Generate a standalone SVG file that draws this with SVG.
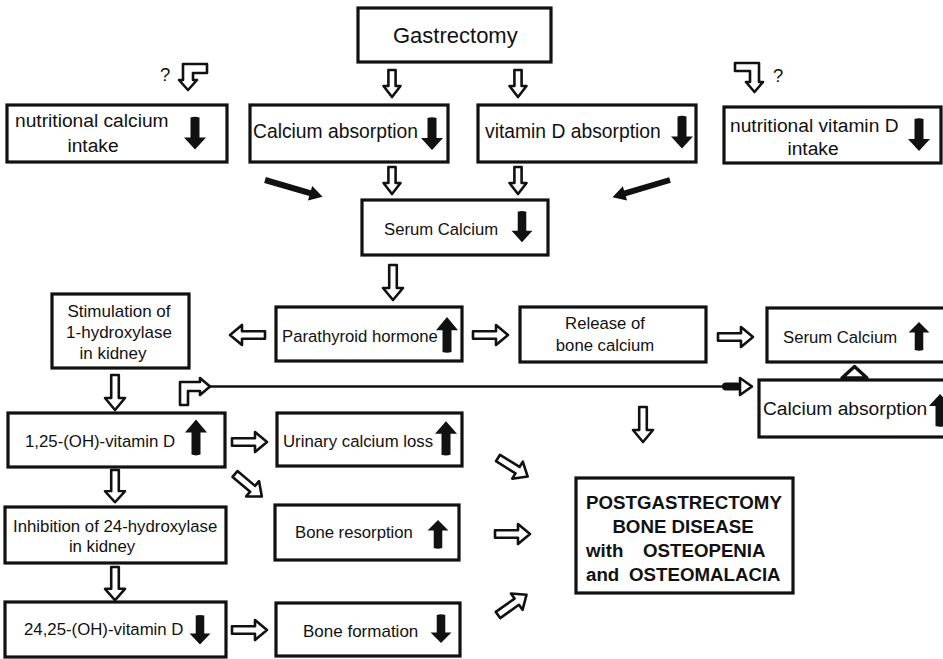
<svg xmlns="http://www.w3.org/2000/svg" xmlns:xlink="http://www.w3.org/1999/xlink" width="943" height="659" viewBox="0 0 943 659">
<style>
.box{fill:#fff;stroke:#111;stroke-width:3.2}
text{font-family:"Liberation Sans",Arial,Helvetica,sans-serif;fill:#111}
.t19{font-size:19.2px}
.t17{font-size:16.8px}
.b{font-size:18.7px;font-weight:bold}
.q{font-size:18.5px}
.ho{fill:#fff;stroke:#111;stroke-width:2.6;stroke-linejoin:round}
.so{fill:#111}
.ln{stroke:#111;stroke-width:2.6;fill:none}
</style>
<defs>
<path id="ha" d="M0,-3.8 H23 V-10 L35,0 L23,10 V3.8 H0 Z"/>
<path id="hs" d="M0,-3.6 H16 V-8.5 L27,0 L16,8.5 V3.6 H0 Z"/>
<path id="sd" d="M-4.5,-16 Q0,-17.5 4.5,-16 V4 H11 L0,16 L-11,4 H-4.5 Z"/>
<path id="sl" d="M0,-3 H47 V-7.5 L60,0 L47,7.5 V3 H0 Z"/>
</defs>

<g id="gastrectomy">
<rect class="box" x="358" y="8" width="193" height="54"/>
<text x="393" y="43" style="font-size:22px">Gastrectomy</text>
</g>

<g id="nutritional-calcium">
<rect class="box" x="7" y="105" width="220" height="57"/>
<text class="t19" x="15" y="127">nutritional calcium</text>
<text class="t19" x="93" y="152" text-anchor="middle">intake</text>
<use href="#sd" class="so" transform="translate(195,133.5)"/>
</g>

<g id="calcium-absorption">
<rect class="box" x="250" y="105" width="198" height="57"/>
<text class="t19" x="253" y="138" style="font-size:19.3px">Calcium absorption</text>
<use href="#sd" class="so" transform="translate(432,134)"/>
</g>

<g id="vitd-absorption">
<rect class="box" x="478" y="105" width="218" height="57"/>
<text class="t19" x="485" y="138" style="font-size:19.3px">vitamin D absorption</text>
<use href="#sd" class="so" transform="translate(682,132.5)"/>
</g>

<g id="nutritional-vitd">
<rect class="box" x="724" y="107" width="217" height="56"/>
<text class="t19" x="730" y="132">nutritional vitamin D</text>
<text class="t19" x="813" y="155" text-anchor="middle">intake</text>
<use href="#sd" class="so" transform="translate(919,135)"/>
</g>

<g id="serum-calcium-low">
<rect class="box" x="362" y="200" width="186" height="55"/>
<text class="t17" x="384" y="235" style="font-size:16.7px">Serum Calcium</text>
<use href="#sd" class="so" transform="translate(522,227) scale(0.95)"/>
</g>

<g id="stimulation">
<rect class="box" x="52" y="294" width="137" height="74"/>
<text class="t17" x="119" y="317" text-anchor="middle" style="font-size:17px">Stimulation of</text>
<text class="t17" x="119" y="338" text-anchor="middle" style="font-size:17px">1-hydroxylase</text>
<text class="t17" x="113" y="359" text-anchor="middle" style="font-size:17px">in kidney</text>
</g>

<g id="pth">
<rect class="box" x="276" y="307" width="186" height="54"/>
<text class="t17" x="282" y="342" style="font-size:16.7px">Parathyroid hormone</text>
<use href="#sd" class="so" transform="translate(447,334.5) rotate(180) scale(1,1.09)"/>
</g>

<g id="release">
<rect class="box" x="520" y="307" width="186" height="55"/>
<text class="t17" x="605" y="329" text-anchor="middle" style="font-size:16.7px">Release of</text>
<text class="t17" x="605" y="351" text-anchor="middle" style="font-size:16.7px">bone calcium</text>
</g>

<g id="serum-calcium-high">
<rect class="box" x="767" y="308" width="180" height="54"/>
<text class="t17" x="783" y="343" style="font-size:16.7px">Serum Calcium</text>
<use href="#sd" class="so" transform="translate(919,336) rotate(180) scale(0.95,0.88)"/>
</g>

<g id="calcium-absorption-high">
<rect class="box" x="759" y="380" width="188" height="57"/>
<text class="t19" x="763" y="415">Calcium absorption</text>
<use href="#sd" class="so" transform="translate(940,410) rotate(180)"/>
</g>

<g id="vitd125">
<rect class="box" x="8" y="413" width="217" height="54"/>
<text class="t17" x="25" y="447">1,25-(OH)-vitamin D</text>
<use href="#sd" class="so" transform="translate(196,437) rotate(180) scale(1,1.1)"/>
</g>

<g id="urinary">
<rect class="box" x="277" y="413" width="185" height="53"/>
<text class="t17" x="283" y="447">Urinary calcium loss</text>
<use href="#sd" class="so" transform="translate(446,438) rotate(180) scale(1,1.05)"/>
</g>

<g id="inhibition">
<rect class="box" x="5" y="507" width="221" height="56"/>
<text class="t17" x="13" y="532">Inhibition of 24-hydroxylase</text>
<text class="t17" x="102" y="552" text-anchor="middle">in kidney</text>
</g>

<g id="bone-resorption">
<rect class="box" x="275" y="505" width="184" height="55"/>
<text class="t17" x="295" y="538" style="font-size:16.7px">Bone resorption</text>
<use href="#sd" class="so" transform="translate(438,534) rotate(180) scale(0.95,0.88)"/>
</g>

<g id="vitd2425">
<rect class="box" x="5" y="602" width="221" height="55"/>
<text class="t17" x="24" y="635">24,25-(OH)-vitamin D</text>
<use href="#sd" class="so" transform="translate(200,630) scale(0.95,0.9)"/>
</g>

<g id="bone-formation">
<rect class="box" x="276" y="603" width="184" height="53"/>
<text class="t17" x="303" y="637" style="font-size:17px">Bone formation</text>
<use href="#sd" class="so" transform="translate(441,629) scale(0.95,0.88)"/>
</g>

<g id="disease">
<rect class="box" x="576" y="478" width="217" height="115"/>
<text class="b" x="586" y="509">POSTGASTRECTOMY</text>
<text class="b" x="683" y="533" text-anchor="middle">BONE DISEASE</text>
<text class="b" y="557"><tspan x="586">with</tspan><tspan x="643">OSTEOPENIA</tspan></text>
<text class="b" y="581"><tspan x="586">and</tspan><tspan x="629">OSTEOMALACIA</tspan></text>
</g>

<g id="connectors">
<text class="q" x="160" y="81">?</text>
<text class="q" x="773" y="82">?</text>
<path class="ho" d="M183,64 H207 V73 H193 V80 H197 L188,90 L179,80 H183 Z"/>
<path class="ho" d="M735,63 H759 V82 H763 L754.5,92 L746,82 H750 V71 H735 Z"/>
<use href="#hs" class="ho" transform="translate(392,70) rotate(90)"/>
<use href="#hs" class="ho" transform="translate(518,70) rotate(90)"/>
<use href="#hs" class="ho" transform="translate(392,167) rotate(90)"/>
<use href="#hs" class="ho" transform="translate(518,167) rotate(90)"/>
<use href="#sl" class="so" transform="translate(265,180) rotate(16.3)"/>
<use href="#sl" class="so" transform="translate(670,180) rotate(163.4)"/>
<use href="#ha" class="ho" transform="translate(393,265) rotate(90)"/>
<use href="#ha" class="ho" transform="translate(265,335) rotate(180)"/>
<use href="#ha" class="ho" transform="translate(473,335)"/>
<use href="#ha" class="ho" transform="translate(718,337)"/>
<use href="#ha" class="ho" transform="translate(115,375) rotate(90)"/>
<use href="#ha" class="ho" transform="translate(232,442)"/>
<use href="#ha" class="ho" transform="translate(235,474) rotate(40)"/>
<use href="#ha" class="ho" transform="translate(115,470) rotate(90) scale(0.92,1)"/>
<use href="#ha" class="ho" transform="translate(115,567) rotate(90) scale(0.95,1)"/>
<use href="#ha" class="ho" transform="translate(232,630)"/>
<use href="#ha" class="ho" transform="translate(643,407) rotate(90)"/>
<use href="#ha" class="ho" transform="translate(498,458) rotate(32)"/>
<use href="#ha" class="ho" transform="translate(495,534)"/>
<use href="#ha" class="ho" transform="translate(498,615) rotate(-35.4)"/>
<line class="ln" x1="208" y1="386.5" x2="726" y2="386.5"/>
<path class="ho" d="M180,405 V382 H200 V378 L210,386.5 L200,395 V391 H188 V405 Z"/>
<rect class="so" x="722" y="382.5" width="19" height="8" rx="4"/>
<path class="ho" d="M740,378 L752,386.5 L740,395 Z"/>
<path class="ho" d="M842,378 L854.5,366.5 L867,378 Z" style="stroke-width:3.4"/>
</g>
</svg>
